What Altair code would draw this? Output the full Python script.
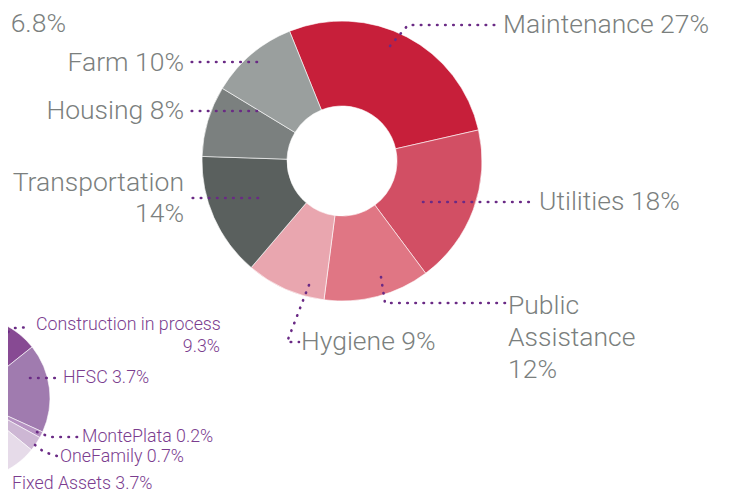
import math
import altair as alt
import pandas as pd

# ---------------- data ----------------
main_cats = ["Maintenance", "Utilities", "Public Assistance", "Hygiene",
             "Transportation", "Housing", "Farm"]
main_vals = [27, 18, 12, 9, 14, 8, 10]
main_colors = ["#C71F3A", "#D24F64", "#E07684", "#E9A6AF",
               "#5A605E", "#7B807F", "#9A9F9E"]

# partly visible second donut (slice shares read from the visible arcs)
purple_cats = ["Construction in process", "HFSC", "MontePlata", "OneFamily", "Other"]
purple_shares = [14.3, 17.5, 1.2, 2.9, 64.1]
purple_colors = ["#874A93", "#A07BAF", "#B692C2", "#CDB7D4", "#E6DBE9"]

main_labels = ["Maintenance 27%", "Utilities 18%", "Public", "Assistance", "12%",
               "Hygiene 9%", "Transportation", "14%", "Housing 8%", "Farm 10%", "6.8%"]
purple_labels = ["Construction in process", "9.3%", "HFSC 3.7%", "MontePlata 0.2%",
                 "OneFamily 0.7%", "Fixed Assets 3.7%"]

# ---------------- layout (pixels, chart coordinates) ----------------
W, H = 719, 486
MAIN_CENTER = (334, 153)
MAIN_START = math.radians(-22)
PURPLE_CENTER = (-40, 390)

label_pos = {
    "Maintenance 27%": (495, 17, "left"),
    "Utilities 18%": (531, 194, "left"),
    "Public": (500, 298, "left"),
    "Assistance": (500, 330, "left"),
    "12%": (500, 362, "left"),
    "Hygiene 9%": (293, 334, "left"),
    "Transportation": (176, 175, "right"),
    "14%": (176, 206, "right"),
    "Housing 8%": (176, 103, "right"),
    "Farm 10%": (176, 55, "right"),
    "6.8%": (58, 16, "right"),
    "Construction in process": (28, 317, "left"),
    "9.3%": (212, 339, "left_r"),
    "HFSC 3.7%": (55, 370, "left"),
    "MontePlata 0.2%": (74, 429, "left"),
    "OneFamily 0.7%": (52, 449, "left"),
    "Fixed Assets 3.7%": (4, 476, "left"),
}

leaders = {
    "Maintenance": [(382, 38), (400, 17), (492, 17)],
    "Utilities": [(415, 194), (525, 194)],
    "Public Assistance": [(373, 269), (377, 295), (499, 295)],
    "Hygiene": [(301, 277), (279, 334), (291, 334)],
    "Transportation": [(250, 190), (178, 190)],
    "Housing": [(249, 103), (178, 103)],
    "Farm": [(249, 54), (178, 54)],
    "Construction": [(0, 324), (7, 320), (23, 319)],
    "HFSC": [(22, 370), (48, 370)],
    "MontePlata": [(29, 424), (42, 429), (70, 429)],
    "OneFamily": [(27, 437), (36, 444), (49, 448)],
}

GREY = "#7B7F7E"
PURPLE_TXT = "#7B3D8F"
LEADER = "#6A2A85"
FONT = "Roboto"

# ---------------- frames ----------------
main_df = pd.DataFrame({"cat": main_cats, "val": main_vals, "idx": range(len(main_cats))})
purple_df = pd.DataFrame({"cat": purple_cats, "val": purple_shares, "idx": range(len(purple_cats))})

rows = []
for name, pts in leaders.items():
    for i, (x, y) in enumerate(pts):
        rows.append({"g": name, "o": i, "x": x, "y": y})
lead_df = pd.DataFrame(rows)

trows = []
for t in main_labels:
    x, y, a = label_pos[t]
    trows.append({"t": t, "x": x, "y": y, "a": a, "c": GREY, "s": 26.5})
for t in purple_labels:
    x, y, a = label_pos[t]
    trows.append({"t": t, "x": x, "y": y, "a": a, "c": PURPLE_TXT, "s": 17.8})
text_df = pd.DataFrame(trows)

xs = alt.Scale(domain=[0, W], range=[0, W])
ys = alt.Scale(domain=[0, H], range=[0, H])

main_arc = alt.Chart(main_df).mark_arc(
    innerRadius=55, outerRadius=140, stroke="white", strokeWidth=0.6
).encode(
    theta=alt.Theta("val:Q", stack=True,
                    scale=alt.Scale(range=[MAIN_START, MAIN_START + 2 * math.pi])),
    color=alt.Color("cat:N", scale=alt.Scale(domain=main_cats, range=main_colors), legend=None),
    order=alt.Order("idx:Q"),
    x=alt.value(MAIN_CENTER[0]),
    y=alt.value(MAIN_CENTER[1]),
)

purple_arc = alt.Chart(purple_df).mark_arc(
    innerRadius=34, outerRadius=82, stroke="white", strokeWidth=0.6
).encode(
    theta=alt.Theta("val:Q", stack=True, scale=alt.Scale(range=[0, 2 * math.pi])),
    color=alt.Color("cat:N", scale=alt.Scale(domain=purple_cats, range=purple_colors), legend=None),
    order=alt.Order("idx:Q"),
    x=alt.value(PURPLE_CENTER[0]),
    y=alt.value(PURPLE_CENTER[1]),
)

lines = alt.Chart(lead_df).mark_line(
    color=LEADER, strokeWidth=2.6, strokeDash=[0.5, 7.6], strokeCap="round"
).encode(
    x=alt.X("x:Q", scale=xs, axis=None),
    y=alt.Y("y:Q", scale=ys, axis=None),
    detail="g:N",
    order="o:Q",
)

def text_layer(align_key, align):
    return alt.Chart(text_df).transform_filter(
        alt.datum.a == align_key
    ).mark_text(align=align, baseline="middle", font=FONT, fontWeight=300).encode(
        x=alt.X("x:Q", scale=xs, axis=None),
        y=alt.Y("y:Q", scale=ys, axis=None),
        text="t:N",
        color=alt.Color("c:N", scale=None),
        size=alt.Size("s:Q", scale=None),
    )

chart = alt.layer(
    main_arc, purple_arc, lines,
    text_layer("left", "left"), text_layer("right", "right"), text_layer("left_r", "right"),
).resolve_scale(
    theta="independent", color="independent"
).properties(
    width=W, height=H, padding=0, autosize=alt.AutoSizeParams(type="none"),
    background="white",
).configure_view(stroke=None)

chart.save("out.html", embed_options={"renderer": "svg", "actions": False})
